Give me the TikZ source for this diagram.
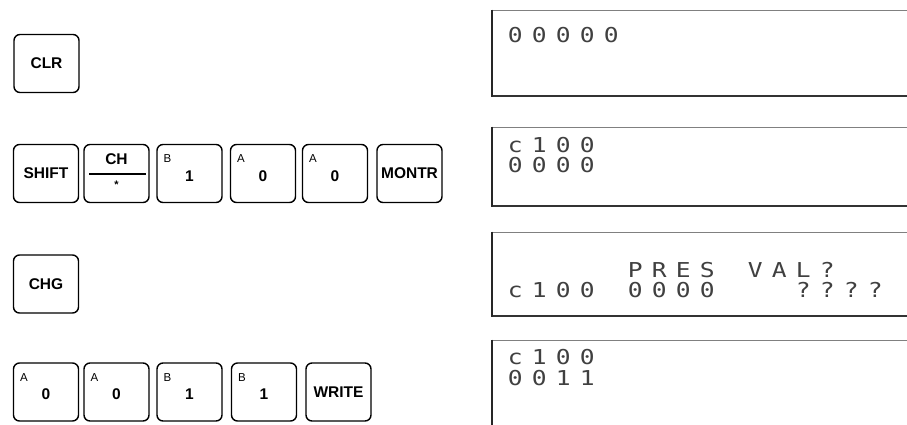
\documentclass[tikz,border=0pt]{standalone}
\usepackage{fontspec}
\setmainfont{Liberation Sans}
\newfontfamily\lcdfont[FakeStretch=1.2]{DejaVu Sans Mono}
\makeatletter
\def\lcd@blank{_}
\newcommand\lcdtext[1]{\@tfor\lcd@c:=#1\do{\makebox[24pt][c]{\ifx\lcd@c\lcd@blank\else\lcd@c\fi}}}
\makeatother
\tikzset{
  keybox/.style={draw, line width=1.4pt, rounded corners=6pt, minimum width=65pt,
    minimum height=58pt, inner sep=0pt, font=\fontsize{15.5}{15.5}\selectfont\bfseries},
  keysmall/.style={anchor=base west, inner sep=0pt, font=\fontsize{11.5}{11.5}\selectfont},
  keydigit/.style={inner sep=0pt, font=\fontsize{15.5}{15.5}\selectfont\bfseries},
  lcdleft/.style={line width=1.6pt, black!85},
  lcdtop/.style={line width=0.7pt, black!50},
  lcdbottom/.style={line width=1.1pt, black!80},
  lcdline/.style={anchor=base west, inner sep=0pt, text=black!75,
    font=\lcdfont\fontsize{20.5}{20.5}\selectfont},
}
\begin{document}
\begin{tikzpicture}[x=1pt,y=-1pt]
\useasboundingbox (0,0) rectangle (907,424);

% ---- key row 1
\node[keybox] (clr) at (46.5,63.5) {CLR};

% ---- key row 2
\node[keybox] (shift) at (46,173.5) {SHIFT};
\node[keybox] (ch) at (116.5,173.5) {};
\node[keydigit, anchor=base] (chtxt) at ([yshift=-21pt]ch.north) {CH};
\coordinate (chl) at ([xshift=6pt,yshift=-30pt]ch.north west);
\coordinate (chr) at ([xshift=-4pt,yshift=-30pt]ch.north east);
\draw[line width=1.4pt] (chl) -- (chr);
\node[anchor=base, inner sep=0pt, font=\fontsize{11}{11}\selectfont\bfseries] (chstar) at ([yshift=-45pt]ch.north) {*};

\node[keybox] (b1) at (189.5,173.5) {};
\node[keysmall] (b1s) at ([xshift=7pt,yshift=-19pt]b1.north west) {B};
\node[keydigit] (b1d) at ([yshift=-2.5pt]b1.center) {1};

\node[keybox] (a0) at (263,173.5) {};
\node[keysmall] (a0s) at ([xshift=7pt,yshift=-19pt]a0.north west) {A};
\node[keydigit] (a0d) at ([yshift=-2.5pt]a0.center) {0};

\node[keybox] (a0b) at (335,173.5) {};
\node[keysmall] (a0bs) at ([xshift=7pt,yshift=-19pt]a0b.north west) {A};
\node[keydigit] (a0bd) at ([yshift=-2.5pt]a0b.center) {0};

\node[keybox] (montr) at (409.5,173.5) {MONTR};

% ---- key row 3
\node[keybox] (chg) at (46,284) {CHG};

% ---- key row 4
\node[keybox] (r4a) at (46,392) {};
\node[keysmall] (r4as) at ([xshift=7pt,yshift=-19pt]r4a.north west) {A};
\node[keydigit] (r4ad) at ([yshift=-2.5pt]r4a.center) {0};

\node[keybox] (r4b) at (116.5,392) {};
\node[keysmall] (r4bs) at ([xshift=7pt,yshift=-19pt]r4b.north west) {A};
\node[keydigit] (r4bd) at ([yshift=-2.5pt]r4b.center) {0};

\node[keybox] (r4c) at (189.5,392) {};
\node[keysmall] (r4cs) at ([xshift=7pt,yshift=-19pt]r4c.north west) {B};
\node[keydigit] (r4cd) at ([yshift=-2.5pt]r4c.center) {1};

\node[keybox] (r4d) at (264,392) {};
\node[keysmall] (r4ds) at ([xshift=7pt,yshift=-19pt]r4d.north west) {B};
\node[keydigit] (r4dd) at ([yshift=-2.5pt]r4d.center) {1};

\node[keybox] (write) at (338.5,392) {WRITE};

% ---- LCD displays
\foreach \T/\B in {10/96,127/206,232/316,340/428}{
  \draw[lcdtop] (492,\T) -- (907,\T);
  \draw[lcdbottom] (492,\B) -- (907,\B);
  \draw[lcdleft] (492,\T-0.35) -- (492,\B+0.5);
}
\node[lcdline] (l1a) at (503,42) {\lcdtext{00000}};
\node[lcdline] (l2a) at (503,152) {\lcdtext{c100}};
\node[lcdline] (l2b) at (503,172) {\lcdtext{0000}};
\node[lcdline] (l3a) at (503,277) {\lcdtext{_____PRES_VAL?}};
\node[lcdline] (l3b) at (503,297) {\lcdtext{c100_0000___????}};
\node[lcdline] (l4a) at (503,364) {\lcdtext{c100}};
\node[lcdline] (l4b) at (503,385) {\lcdtext{0011}};
\end{tikzpicture}
\end{document}
